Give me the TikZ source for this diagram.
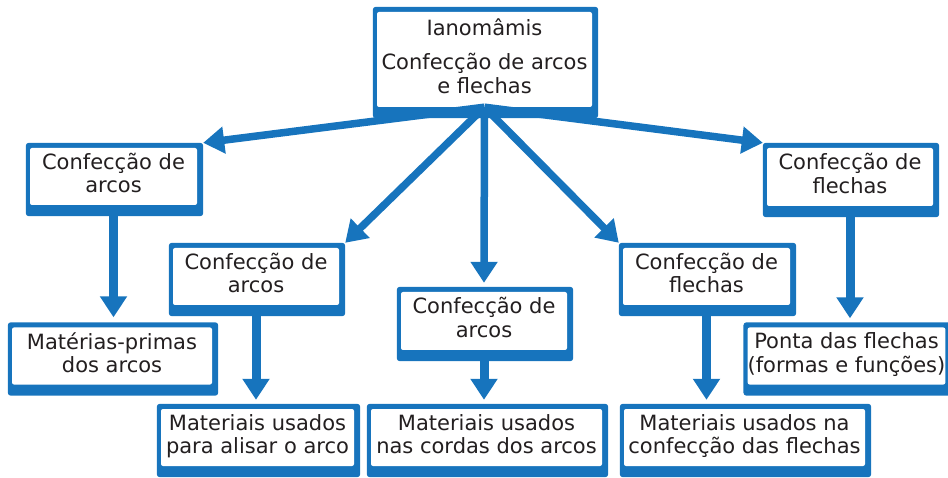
\documentclass[tikz,border=0pt]{standalone}
\usepackage{fontspec}
\setmainfont{DejaVu Sans}
\usepackage{tikz}
\usetikzlibrary{arrows.meta,backgrounds}
\definecolor{boxblue}{RGB}{23,116,189}
\definecolor{boxtext}{RGB}{35,31,32}

\begin{document}
\begin{tikzpicture}[x=1pt, y=-1pt,
  box/.style={fill=white, rounded corners=2pt, inner sep=0pt, align=center, text=boxtext,
    minimum height=57pt, font=\fontsize{21}{23.5}\selectfont,
    execute at begin node=\strut, execute at end node=\strut},
  fan/.style={boxblue, line width=7.5pt, -{Triangle[width=26pt,length=21pt]}},
  down/.style={boxblue, line width=9pt, -{Triangle[width=26pt,length=21pt]}}]
\useasboundingbox (0,0) rectangle (948,478);

% boxes (white part)
\node[box, minimum width=215pt, minimum height=95pt] (top) at (484.5,59.5) {Ianomâmis\\[11pt]Confecção de arcos\\e flechas};
\node[box, minimum width=167pt] (a) at (113.5,176.5) {Confecção de\\arcos};
\node[box, minimum width=200pt] (b) at (112,356) {Matérias-primas\\dos arcos};
\node[box, minimum width=166pt] (c) at (256,276.5) {Confecção de\\arcos};
\node[box, minimum width=193pt] (d) at (257.5,437.5) {Materiais usados\\para alisar o arco};
\node[box, minimum width=166pt, minimum height=58pt] (e) at (484,321) {Confecção de\\arcos};
\node[box, minimum width=231pt] (f) at (486.5,437.5) {Materiais usados\\nas cordas dos arcos};
\node[box, minimum width=167pt] (g) at (706.5,276.5) {Confecção de\\flechas};
\node[box, minimum width=241pt] (h) at (744.5,437.5) {Materiais usados na\\confecção das flechas};
\node[box, minimum width=166pt, minimum height=58pt] (i) at (850,177) {Confecção de\\flechas};
\node[box, minimum width=191pt] (j) at (846.5,356) {Ponta das flechas\\(formas e funções)};

% blue frames, thicker at right and bottom
\begin{scope}[on background layer]
\foreach \n in {top,a,b,c,d,e,f,g,h,i,j}
  \fill[boxblue, rounded corners=3pt] ([xshift=-4pt,yshift=5pt]\n.north west) rectangle ([xshift=6pt,yshift=-11pt]\n.south east);
\end{scope}

% arrows
\draw[fan] (top.south) -- ([xshift=6pt,yshift=5pt]a.north east);
\draw[fan] (top.south) -- ([xshift=6pt,yshift=5pt]c.north east);
\draw[fan] (top.south) -- ([yshift=9pt]e.north);
\draw[fan] (top.south) -- ([xshift=-4pt,yshift=5pt]g.north west);
\draw[fan] (top.south) -- ([xshift=-4pt,yshift=5pt]i.north west);

\draw[down] (a.south) -- ([yshift=10pt]a.south |- b.north);
\draw[down] (c.south) -- ([yshift=9pt]c.south |- d.north);
\draw[down] (e.south) -- ([yshift=9pt]e.south |- f.north);
\draw[down] (g.south) -- ([yshift=9pt]g.south |- h.north);
\draw[down] (i.south) -- ([yshift=9pt]i.south |- j.north);
\end{tikzpicture}
\end{document}
